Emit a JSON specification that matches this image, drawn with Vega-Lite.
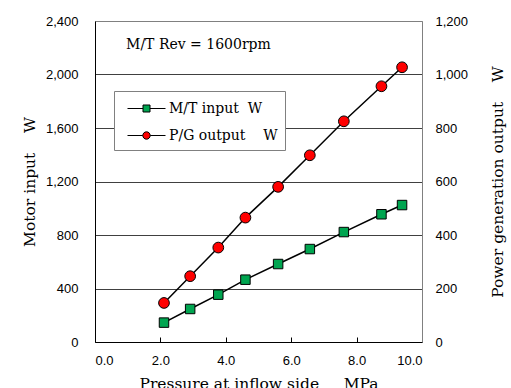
{
  "$schema": "https://vega.github.io/schema/vega-lite/v6.json",
  "width": 327,
  "height": 321,
  "autosize": {"type": "none"},
  "padding": {"left": 95, "top": 21, "right": 89, "bottom": 46},
  "background": "white",
  "config": {
    "view": {"stroke": "#808080", "strokeWidth": 1},
    "axis": {
      "labelFont": "Liberation Sans",
      "labelFontSize": 13,
      "labelColor": "black",
      "titleFont": "DejaVu Serif",
      "titleFontSize": 15.5,
      "titleFontWeight": "normal",
      "titleColor": "black"
    },
    "legend": {
      "orient": "none",
      "legendX": 19,
      "legendY": 70,
      "fillColor": "white",
      "strokeColor": "#808080",
      "padding": 7,
      "symbolSize": 400,
      "symbolStrokeColor": "black",
      "symbolStrokeWidth": 1,
      "symbolOpacity": 1,
      "labelOffset": 27,
      "labelFont": "DejaVu Serif",
      "labelFontSize": 14,
      "labelColor": "black",
      "labelLimit": 300,
      "rowPadding": 9
    }
  },
  "datasets": {
    "main": [
      {"p": 2.11, "value": 145, "k": "mt", "series": "M/T input\u00a0\u00a0W"},
      {"p": 2.91, "value": 247, "k": "mt", "series": "M/T input\u00a0\u00a0W"},
      {"p": 3.77, "value": 354, "k": "mt", "series": "M/T input\u00a0\u00a0W"},
      {"p": 4.6, "value": 466, "k": "mt", "series": "M/T input\u00a0\u00a0W"},
      {"p": 5.6, "value": 583, "k": "mt", "series": "M/T input\u00a0\u00a0W"},
      {"p": 6.57, "value": 695, "k": "mt", "series": "M/T input\u00a0\u00a0W"},
      {"p": 7.61, "value": 822, "k": "mt", "series": "M/T input\u00a0\u00a0W"},
      {"p": 8.76, "value": 955, "k": "mt", "series": "M/T input\u00a0\u00a0W"},
      {"p": 9.39, "value": 1024, "k": "mt", "series": "M/T input\u00a0\u00a0W"},
      {"p": 2.11, "value": 146, "k": "pg", "series": "P/G output\u00a0\u00a0\u00a0\u00a0W"},
      {"p": 2.91, "value": 246, "k": "pg", "series": "P/G output\u00a0\u00a0\u00a0\u00a0W"},
      {"p": 3.77, "value": 353, "k": "pg", "series": "P/G output\u00a0\u00a0\u00a0\u00a0W"},
      {"p": 4.6, "value": 465, "k": "pg", "series": "P/G output\u00a0\u00a0\u00a0\u00a0W"},
      {"p": 5.6, "value": 580, "k": "pg", "series": "P/G output\u00a0\u00a0\u00a0\u00a0W"},
      {"p": 6.57, "value": 698, "k": "pg", "series": "P/G output\u00a0\u00a0\u00a0\u00a0W"},
      {"p": 7.61, "value": 825, "k": "pg", "series": "P/G output\u00a0\u00a0\u00a0\u00a0W"},
      {"p": 8.76, "value": 956, "k": "pg", "series": "P/G output\u00a0\u00a0\u00a0\u00a0W"},
      {"p": 9.39, "value": 1027, "k": "pg", "series": "P/G output\u00a0\u00a0\u00a0\u00a0W"}
    ]
  },
  "encoding": {
    "x": {
      "field": "p",
      "type": "quantitative",
      "scale": {"domain": [0, 10], "nice": false, "zero": false},
      "axis": {
        "values": [0, 2, 4, 6, 8, 10],
        "format": ".1f",
        "title": "Pressure at inflow side\u00a0\u00a0\u00a0\u00a0\u00a0MPa",
        "grid": false,
        "domainColor": "black",
        "tickColor": "black",
        "tickSize": -5,
        "labelPadding": 17,
        "titlePadding": 9
      }
    }
  },
  "layer": [
    {
      "encoding": {
        "y": {
          "field": "value",
          "type": "quantitative",
          "scale": {"domain": [0, 2400], "nice": false},
          "axis": {
            "orient": "left",
            "values": [0, 400, 800, 1200, 1600, 2000, 2400],
            "format": ",.0f",
            "title": "Motor input\u00a0\u00a0\u00a0\u00a0W",
            "ticks": false,
            "tickSize": 0,
            "labelPadding": 17,
            "titlePadding": 8,
            "domainColor": "black",
            "grid": true,
            "gridColor": "#404040",
            "gridOpacity": {"condition": {"test": "datum.value <= 0 || datum.value >= 2400", "value": 0}, "value": 1}
          }
        }
      },
      "layer": [
        {
          "data": {"name": "main"},
          "transform": [{"filter": "datum.k === 'mt'"}],
          "mark": {"type": "line", "color": "black", "strokeWidth": 1.5}
        },
        {
          "data": {"name": "main"},
          "transform": [{"filter": "datum.k === 'mt'"}],
          "mark": {"type": "point", "shape": "square", "filled": true, "size": 90, "stroke": "black", "strokeWidth": 1, "opacity": 1},
          "encoding": {
            "fill": {
              "field": "series",
              "type": "nominal",
              "scale": {"domain": ["M/T input\u00a0\u00a0W", "P/G output\u00a0\u00a0\u00a0\u00a0W"], "range": ["#00A550", "#FF0000"]},
              "legend": {
                "title": null,
                "labelExpr": "datum.label + '\u00a0\u00a0'",
                "encode": {
                  "symbols": {
                    "update": {
                      "shape": {"signal": "datum.index === 0 ? 'M-0.4,0H1.15M1.85,0H3.4M1.15,-0.35H1.85V0.35H1.15Z' : 'M-0.4,0H1.13M1.87,0H3.4M1.87,0A0.37,0.37,0,1,1,1.13,0A0.37,0.37,0,1,1,1.87,0Z'"},
                      "stroke": {"value": "black"},
                      "strokeWidth": {"value": 1},
                      "opacity": {"value": 1}
                    }
                  }
                }
              }
            }
          }
        },
        {
          "data": {"values": [{"p": 0.95, "value": 2220, "label": "M/T Rev = 1600rpm"}]},
          "mark": {"type": "text", "align": "left", "baseline": "middle", "font": "DejaVu Serif", "fontSize": 14, "color": "black"},
          "encoding": {"text": {"field": "label"}}
        }
      ]
    },
    {
      "encoding": {
        "y": {
          "field": "value",
          "type": "quantitative",
          "scale": {"domain": [0, 1200], "nice": false},
          "axis": {
            "orient": "right",
            "values": [0, 200, 400, 600, 800, 1000, 1200],
            "format": ",.0f",
            "title": "Power generation output\u00a0\u00a0\u00a0\u00a0W",
            "titleAngle": 270,
            "ticks": false,
            "tickSize": 0,
            "labelPadding": 13,
            "titlePadding": 38,
            "domainColor": "#808080",
            "grid": false
          }
        }
      },
      "layer": [
        {
          "data": {"name": "main"},
          "transform": [{"filter": "datum.k === 'pg'"}],
          "mark": {"type": "line", "color": "black", "strokeWidth": 1.5}
        },
        {
          "data": {"name": "main"},
          "transform": [{"filter": "datum.k === 'pg'"}],
          "mark": {"type": "point", "shape": "circle", "filled": true, "size": 115, "stroke": "black", "strokeWidth": 1, "opacity": 1},
          "encoding": {
            "fill": {
              "field": "series",
              "type": "nominal",
              "legend": {
                "title": null,
                "labelExpr": "datum.label + '\u00a0\u00a0'",
                "encode": {
                  "symbols": {
                    "update": {
                      "shape": {"signal": "datum.index === 0 ? 'M-0.4,0H1.15M1.85,0H3.4M1.15,-0.35H1.85V0.35H1.15Z' : 'M-0.4,0H1.13M1.87,0H3.4M1.87,0A0.37,0.37,0,1,1,1.13,0A0.37,0.37,0,1,1,1.87,0Z'"},
                      "stroke": {"value": "black"},
                      "strokeWidth": {"value": 1},
                      "opacity": {"value": 1}
                    }
                  }
                }
              }
            }
          }
        }
      ]
    }
  ],
  "resolve": {"scale": {"y": "independent"}}
}
